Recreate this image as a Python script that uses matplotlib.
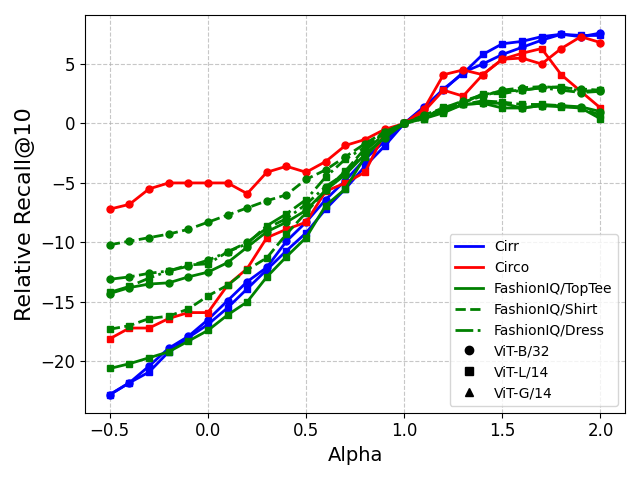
import numpy as np
import matplotlib
matplotlib.use('Agg')
import matplotlib.pyplot as plt
from matplotlib.lines import Line2D

alpha = np.round(np.arange(-0.5, 2.01, 0.1), 1)

# Cirr
cirr_b32 = [-22.8, -21.8, -20.4, -18.9, -17.9, -16.5, -14.9, -13.3, -12.1, -9.9, -8.3, -6.4, -4.8, -3.0, -1.5,
            0.0, 1.4, 2.8, 4.3, 5.0, 5.8, 6.4, 7.0, 7.5, 7.3, 7.6]
cirr_l14 = [-22.8, -21.8, -20.9, -19.2, -18.0, -16.9, -15.5, -13.9, -12.3, -10.7, -9.2, -7.2, -5.5, -3.6, -1.9,
            0.0, 1.3, 2.9, 4.2, 5.8, 6.7, 6.9, 7.3, 7.5, 7.4, 7.4]
# Circo
circo_b32 = [-7.2, -6.8, -5.5, -5.0, -5.0, -5.0, -5.0, -5.9, -4.1, -3.6, -4.1, -3.2, -1.85, -1.35, -0.5,
             0.0, 1.2, 4.1, 4.5, 4.1, 5.4, 5.5, 5.0, 6.3, 7.3, 6.8]
circo_l14 = [-18.1, -17.2, -17.2, -16.4, -15.9, -15.9, -13.6, -12.2, -9.6, -8.9, -8.3, -5.7, -5.0, -4.1, -0.8,
             0.0, 1.0, 2.8, 2.3, 4.1, 5.4, 5.9, 6.3, 4.1, 2.7, 1.3]
# FashionIQ
shirt_b32 = [-10.2, -9.9, -9.6, -9.3, -8.9, -8.3, -7.7, -7.1, -6.5, -6.0, -4.7, -3.9, -2.8, -1.7, -0.7,
             0.0, 0.6, 1.2, 1.8, 2.3, 2.8, 3.0, 3.1, 3.0, 2.9, 2.8]
dress_b32 = [-13.1, -12.9, -12.6, -12.4, -12.0, -11.5, -10.8, -10.0, -8.8, -8.0, -6.8, -5.3, -4.2, -2.3, -0.9,
             0.0, 0.7, 1.3, 1.9, 2.4, 2.7, 2.8, 3.0, 2.8, 2.6, 2.7]
toptee_b32 = [-14.3, -13.8, -13.5, -13.4, -12.9, -12.5, -11.7, -10.4, -9.1, -8.3, -7.3, -5.6, -4.3, -2.6, -1.2,
              0.0, 0.5, 1.0, 1.6, 1.7, 1.7, 1.3, 1.5, 1.5, 1.4, 1.0]
dress_l14 = [-14.2, -13.7, -13.0, -12.4, -11.9, -11.8, -10.8, -10.1, -8.6, -7.6, -6.4, -4.5, -3.0, -2.0, -0.7,
             0.0, 0.6, 1.0, 1.7, 2.5, 2.5, 2.8, 3.0, 3.1, 2.7, 2.8]
shirt_l14 = [-17.3, -17.0, -16.4, -16.2, -15.6, -14.5, -13.6, -12.3, -11.3, -9.3, -7.5, -5.6, -4.0, -2.1, -0.8,
             0.0, 0.4, 1.4, 1.6, 1.9, 1.8, 1.6, 1.6, 1.5, 1.3, 0.7]
toptee_l14 = [-20.6, -20.2, -19.7, -19.2, -18.3, -17.4, -16.1, -15.0, -12.9, -11.2, -9.6, -6.9, -5.5, -2.8, -1.1,
              0.0, 0.4, 0.9, 1.6, 1.7, 1.3, 1.3, 1.5, 1.4, 1.3, 0.4]

series = [
    (cirr_b32, 'blue', '-', 'o'),
    (cirr_l14, 'blue', '-', 's'),
    (circo_b32, 'red', '-', 'o'),
    (circo_l14, 'red', '-', 's'),
    (toptee_b32, 'green', '-', 'o'),
    (toptee_l14, 'green', '-', 's'),
    (shirt_b32, 'green', '--', 'o'),
    (shirt_l14, 'green', '--', 's'),
    (dress_b32, 'green', '-.', 'o'),
    (dress_l14, 'green', '-.', 's'),
]

fig, ax = plt.subplots(figsize=(6.4, 4.8), dpi=100)
for vals, c, ls, m in series:
    ax.plot(alpha, vals, color=c, linestyle=ls, marker=m, markersize=5, linewidth=2)

handles = [
    Line2D([0], [0], color='blue', lw=2, label='Cirr'),
    Line2D([0], [0], color='red', lw=2, label='Circo'),
    Line2D([0], [0], color='green', lw=2, ls='-', label='FashionIQ/TopTee'),
    Line2D([0], [0], color='green', lw=2, ls='--', label='FashionIQ/Shirt'),
    Line2D([0], [0], color='green', lw=2, ls='-.', label='FashionIQ/Dress'),
    Line2D([0], [0], color='black', marker='o', ls='', label='ViT-B/32'),
    Line2D([0], [0], color='black', marker='s', ls='', label='ViT-L/14'),
    Line2D([0], [0], color='black', marker='^', ls='', label='ViT-G/14'),
]
ax.legend(handles=handles, loc='lower right', fontsize=10)
ax.grid(True, linestyle='--', alpha=0.7)
ax.set_xlabel('Alpha', fontsize=14)
ax.set_ylabel('Relative Recall@10', fontsize=16)
ax.tick_params(labelsize=12)
plt.tight_layout()
plt.savefig('out.png')
